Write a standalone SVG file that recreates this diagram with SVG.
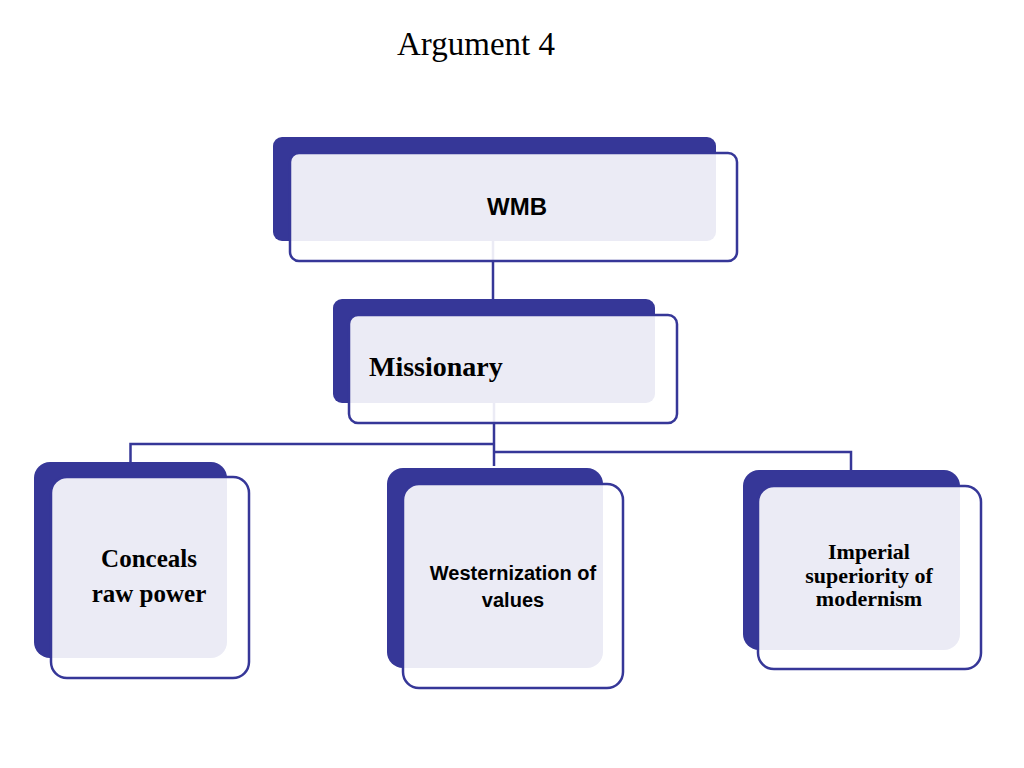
<svg xmlns="http://www.w3.org/2000/svg" width="1024" height="768" viewBox="0 0 1024 768">
<style>
.back{fill:#363798;}
.front{fill:#ffffff;fill-opacity:0.9;stroke:#363798;stroke-width:2.5;}
.conn{fill:none;stroke:#363798;stroke-width:2.5;}
.serif{font-family:"Liberation Serif","Times New Roman",serif;fill:#000;}
.sans{font-family:"Liberation Sans",Arial,sans-serif;font-weight:bold;fill:#000;}
</style>
<rect width="1024" height="768" fill="#ffffff"/>
<text class="serif" x="397" y="55" font-size="33">Argument 4</text>
<g id="connectors">
<path class="conn" d="M493,241 V300"/>
<path class="conn" d="M494,403 V466"/>
<path class="conn" d="M494,444 H130.5 V462"/>
<path class="conn" d="M494,452 H851 V470"/>
</g>
<g id="node-wmb">
<rect class="back" x="273" y="137" width="443" height="104" rx="9"/>
<rect class="front" x="290" y="153" width="447" height="108" rx="9"/>
<text class="sans" x="517" y="215" font-size="24" text-anchor="middle">WMB</text>
</g>
<g id="node-missionary">
<rect class="back" x="333" y="299" width="322" height="104" rx="9"/>
<rect class="front" x="349" y="315" width="328" height="108" rx="9"/>
<text class="serif" x="369" y="376" font-size="28" font-weight="bold">Missionary</text>
</g>
<g id="node-conceals">
<rect class="back" x="34" y="462" width="193" height="196" rx="16"/>
<rect class="front" x="51" y="477" width="198" height="201" rx="16"/>
<text class="serif" x="149" y="567" font-size="25" font-weight="bold" text-anchor="middle">Conceals</text>
<text class="serif" x="149" y="602" font-size="25" font-weight="bold" text-anchor="middle">raw power</text>
</g>
<g id="node-westernization">
<rect class="back" x="387" y="468" width="216" height="200" rx="16"/>
<rect class="front" x="403" y="484" width="220" height="204" rx="16"/>
<text class="sans" x="513" y="580" font-size="20" text-anchor="middle">Westernization of</text>
<text class="sans" x="513" y="607" font-size="20" text-anchor="middle">values</text>
</g>
<g id="node-imperial">
<rect class="back" x="743" y="470" width="217" height="180" rx="16"/>
<rect class="front" x="758" y="486" width="223" height="183" rx="16"/>
<text class="serif" x="869" y="559" font-size="22" font-weight="bold" text-anchor="middle">Imperial</text>
<text class="serif" x="869" y="583" font-size="22" font-weight="bold" text-anchor="middle">superiority of</text>
<text class="serif" x="869" y="606" font-size="22" font-weight="bold" text-anchor="middle">modernism</text>
</g>
</svg>
